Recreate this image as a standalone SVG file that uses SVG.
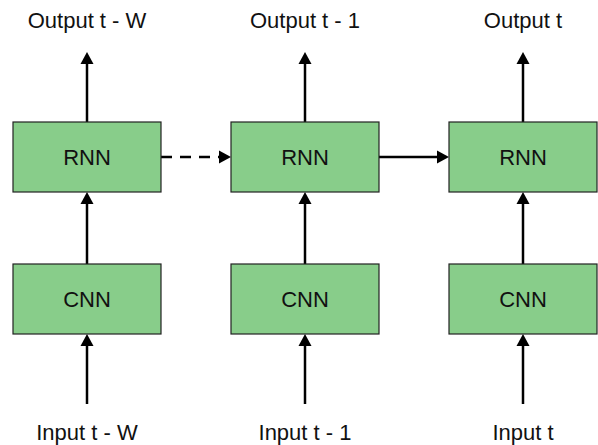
<svg xmlns="http://www.w3.org/2000/svg" width="598" height="445" viewBox="0 0 598 445">
  <style>
    .box { fill: #88cd8a; stroke: #222; stroke-width: 1.2; }
    .lbl { font-family: "Liberation Sans", Arial, sans-serif; font-size: 22px; fill: #111; text-anchor: middle; }
    .conn { stroke: #000; stroke-width: 2.5; fill: none; marker-end: url(#ah); }
    .dash { stroke-dasharray: 11 8; }
  </style>
  <defs>
    <marker id="ah" markerUnits="userSpaceOnUse" markerWidth="12" markerHeight="13" refX="0" refY="6.5" orient="auto" overflow="visible">
      <path d="M0,0 L12,6.5 L0,13 Z" fill="#000"/>
    </marker>
  </defs>
  <rect width="598" height="445" fill="#fff"/>

  <g id="connectors">
    <line class="conn" x1="87" y1="122" x2="87" y2="64"/>
    <line class="conn" x1="305" y1="122" x2="305" y2="64"/>
    <line class="conn" x1="523" y1="122" x2="523" y2="64"/>
    <line class="conn" x1="87" y1="264" x2="87" y2="204"/>
    <line class="conn" x1="305" y1="264" x2="305" y2="204"/>
    <line class="conn" x1="523" y1="264" x2="523" y2="204"/>
    <line class="conn" x1="87" y1="404" x2="87" y2="346"/>
    <line class="conn" x1="305" y1="404" x2="305" y2="346"/>
    <line class="conn" x1="523" y1="404" x2="523" y2="346"/>
    <line class="conn dash" x1="161" y1="157" x2="219" y2="157"/>
    <line class="conn" x1="379" y1="157" x2="437" y2="157"/>
  </g>

  <g id="rnn1"><rect class="box" x="13" y="122" width="148" height="70"/><text class="lbl" x="87" y="165">RNN</text></g>
  <g id="rnn2"><rect class="box" x="231" y="122" width="148" height="70"/><text class="lbl" x="305" y="165">RNN</text></g>
  <g id="rnn3"><rect class="box" x="449" y="122" width="148" height="70"/><text class="lbl" x="523" y="165">RNN</text></g>
  <g id="cnn1"><rect class="box" x="13" y="264" width="148" height="70"/><text class="lbl" x="87" y="307">CNN</text></g>
  <g id="cnn2"><rect class="box" x="231" y="264" width="148" height="70"/><text class="lbl" x="305" y="307">CNN</text></g>
  <g id="cnn3"><rect class="box" x="449" y="264" width="148" height="70"/><text class="lbl" x="523" y="307">CNN</text></g>

  <g id="out1"><text class="lbl" x="87" y="28">Output t - W</text></g>
  <g id="out2"><text class="lbl" x="305" y="28">Output t - 1</text></g>
  <g id="out3"><text class="lbl" x="523" y="28">Output t</text></g>
  <g id="in1"><text class="lbl" x="87" y="440">Input t - W</text></g>
  <g id="in2"><text class="lbl" x="305" y="440">Input t - 1</text></g>
  <g id="in3"><text class="lbl" x="523" y="440">Input t</text></g>
</svg>
